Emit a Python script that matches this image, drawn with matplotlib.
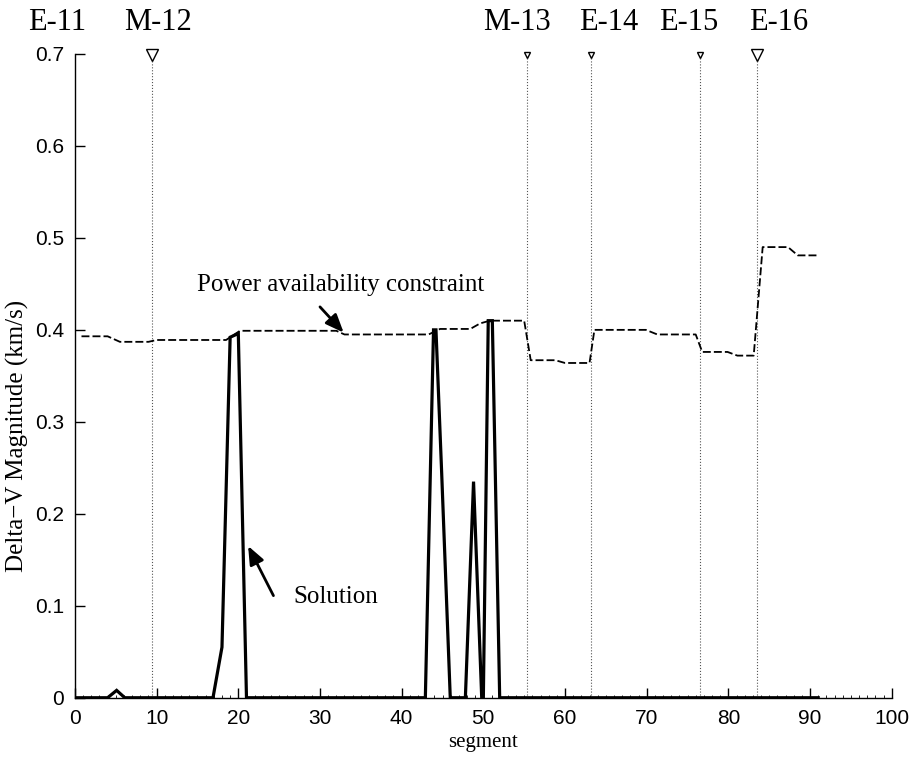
import numpy as np
import matplotlib
matplotlib.use("Agg")
import matplotlib.pyplot as plt
from matplotlib import font_manager

# power availability constraint (dashed), breakpoints
power_x = [0.8, 4.0, 5.5, 9.0, 10.0, 18.5, 20.2, 32.0, 33.0, 43.3, 44.7, 48.4,
           49.6, 50.8, 55.0, 55.8, 58.8, 60.0, 63.0, 63.6, 69.9, 71.3, 76.0,
           76.8, 79.9, 81.1, 83.1, 84.2, 87.3, 88.5, 91.0]
power_y = [0.393, 0.393, 0.387, 0.387, 0.389, 0.389, 0.399, 0.399, 0.395, 0.395,
           0.401, 0.401, 0.407, 0.410, 0.410, 0.367, 0.367, 0.364, 0.364, 0.400,
           0.400, 0.395, 0.395, 0.376, 0.376, 0.372, 0.372, 0.490, 0.490, 0.481,
           0.481]

# solution (solid)
sol_x = [0, 4.0, 5.1, 6.1, 16.9, 18.0, 19.0, 20.0, 21.0, 42.9, 43.9, 44.2, 44.9,
         45.95, 47.8, 48.8, 49.8, 50.0, 50.6, 51.1, 52.0, 91.0]
sol_y = [0, 0, 0.008, 0, 0, 0.055, 0.392, 0.396, 0, 0, 0.400, 0.400, 0.244,
         0, 0, 0.235, 0, 0, 0.410, 0.410, 0, 0]

# flyby events
event_x = [9.4, 55.35, 63.2, 76.5, 83.45]
event_big = [True, False, False, False, True]
label_names = ["E-11", "M-12", "M-13", "E-14", "E-15", "E-16"]
label_x = [-2.2, 10.2, 54.1, 65.3, 75.1, 86.1]

names = {f.name for f in font_manager.fontManager.ttflist}
tick_font = "Liberation Sans Narrow" if "Liberation Sans Narrow" in names else "Liberation Sans"
serif = "Liberation Serif"

fig = plt.figure(figsize=(9.13, 7.57), dpi=100)
ax = fig.add_axes([0.0821, 0.0783, 0.8946, 0.8504])

for x, big in zip(event_x, event_big):
    ax.plot([x, x], [0, 0.7], color="#555555", lw=0.8, ls=":", zorder=1)
    ax.plot(x, 0.699, marker="v", ms=9 if big else 5, mfc="white", mec="black",
            mew=1.0, clip_on=False, zorder=4)

ax.plot(power_x, power_y, color="black", lw=1.3, dashes=(4.4, 1.7), zorder=3)
ax.plot(sol_x, sol_y, color="black", lw=2.3, solid_joinstyle="miter", zorder=3)

for name, x in zip(label_names, label_x):
    ax.text(x, 0.734, name, ha="center", va="center", fontsize=22,
            family=serif, clip_on=False)

arrow = dict(arrowstyle="-|>,head_length=1.1,head_width=0.45", color="black",
             lw=2.0, shrinkA=0, shrinkB=0)
ax.text(32.5, 0.449, "Power availability constraint", ha="center", va="center",
        fontsize=18, family=serif)
ax.annotate("", xy=(32.9, 0.397), xytext=(30.0, 0.425), arrowprops=arrow)
ax.text(26.7, 0.1095, "Solution", ha="left", va="center", fontsize=18, family=serif)
ax.annotate("", xy=(21.2, 0.165), xytext=(24.3, 0.111), arrowprops=arrow)

ax.set_xlim(0, 100)
ax.set_ylim(0, 0.7)
ax.set_xticks(np.arange(0, 101, 10))
ax.set_yticks(np.arange(0, 0.71, 0.1))
ax.set_yticklabels(["0", "0.1", "0.2", "0.3", "0.4", "0.5", "0.6", "0.7"])
ax.set_xticks(np.arange(0, 101, 1), minor=True)
ax.tick_params(which="major", direction="in", length=7, width=1, pad=8,
               labelsize=15)
ax.tick_params(which="minor", axis="x", direction="in", length=2.5, width=0.6)
for lab in ax.get_xticklabels() + ax.get_yticklabels():
    lab.set_family(tick_font)

for s in ["top", "right"]:
    ax.spines[s].set_visible(False)
for s in ["left", "bottom"]:
    ax.spines[s].set_linewidth(1.0)

ax.set_xlabel("segment", fontsize=15, family=serif, labelpad=4)
ax.set_ylabel("Delta\u2212V Magnitude (km/s)", fontsize=18, family=serif)
ax.yaxis.set_label_coords(-0.056, 0.407)

fig.savefig("out.png", dpi=100)
